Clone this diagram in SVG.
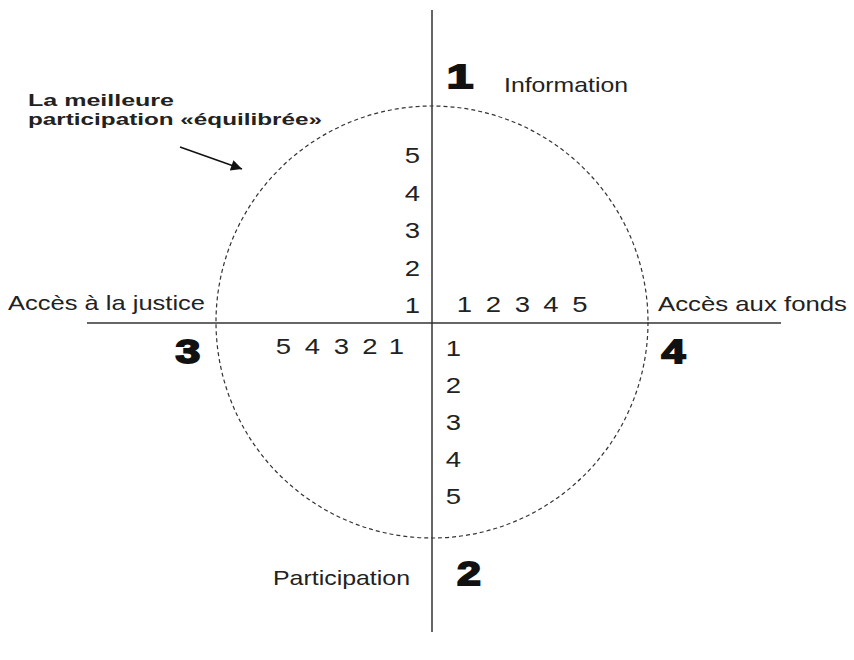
<svg xmlns="http://www.w3.org/2000/svg" width="854" height="660" viewBox="0 0 854 660">
<style>
.ax{stroke:#333;stroke-width:1.5;fill:none}
.circ{stroke:#333;stroke-width:1.2;fill:none;stroke-dasharray:4 3}
.lbl{font-family:"Liberation Sans",Arial,sans-serif;font-size:21px;fill:#222}
.cap{font-family:"Liberation Sans",Arial,sans-serif;font-size:16px;font-weight:bold;fill:#222}
.d{font-family:"Liberation Sans",Arial,sans-serif;font-size:22px;fill:#222;text-anchor:middle}
.big{font-family:"Liberation Sans",Arial,sans-serif;font-size:33px;font-weight:bold;fill:#111;stroke:#111;stroke-width:1.8;text-anchor:middle}
</style>
<defs>
<marker id="ah" viewBox="0 0 10 10" refX="10" refY="5" markerWidth="20" markerHeight="11" markerUnits="userSpaceOnUse" orient="auto">
<path d="M0,0 L10,5 L0,10 z" fill="#111"/>
</marker>
</defs>
<rect width="854" height="660" fill="#fff"/>
<g id="connectors">
<line class="ax" x1="432" y1="10" x2="432" y2="632"/>
<line class="ax" x1="87" y1="323" x2="781" y2="323"/>
<circle class="circ" cx="432" cy="322" r="216"/>
<line x1="180" y1="147" x2="242" y2="169" stroke="#111" stroke-width="1.5" marker-end="url(#ah)"/>
</g>
<g id="note">
<text class="cap" x="28" y="106" textLength="146" lengthAdjust="spacingAndGlyphs">La meilleure</text>
<text class="cap" x="28" y="124.5" textLength="294" lengthAdjust="spacingAndGlyphs">participation «équilibrée»</text>
</g>
<g id="q1">
<text class="big" transform="translate(460,88) scale(1.45,1)">1</text>
<text class="lbl" x="504" y="92" textLength="124" lengthAdjust="spacingAndGlyphs">Information</text>
</g>
<g id="q2">
<text class="big" transform="translate(469,585) scale(1.3,1)">2</text>
<text class="lbl" x="273" y="585" textLength="137" lengthAdjust="spacingAndGlyphs">Participation</text>
</g>
<g id="q3">
<text class="big" transform="translate(188,363) scale(1.35,1)">3</text>
<text class="lbl" x="8" y="310" textLength="197" lengthAdjust="spacingAndGlyphs">Accès à la justice</text>
</g>
<g id="q4">
<text class="big" transform="translate(673.5,363) scale(1.3,1)">4</text>
<text class="lbl" x="658" y="311" textLength="189" lengthAdjust="spacingAndGlyphs">Accès aux fonds</text>
</g>
<g id="scale-up">
<text class="d" transform="translate(412.5,163) scale(1.25,1)">5</text>
<text class="d" transform="translate(412.5,201) scale(1.25,1)">4</text>
<text class="d" transform="translate(412.5,238) scale(1.25,1)">3</text>
<text class="d" transform="translate(412.5,276) scale(1.25,1)">2</text>
<text class="d" transform="translate(412.5,313) scale(1.25,1)">1</text>
</g>
<g id="scale-right">
<text class="d" transform="translate(464.5,312) scale(1.25,1)">1</text>
<text class="d" transform="translate(493.5,312) scale(1.25,1)">2</text>
<text class="d" transform="translate(522.5,312) scale(1.25,1)">3</text>
<text class="d" transform="translate(551,312) scale(1.25,1)">4</text>
<text class="d" transform="translate(580,312) scale(1.25,1)">5</text>
</g>
<g id="scale-left">
<text class="d" transform="translate(283.5,354) scale(1.25,1)">5</text>
<text class="d" transform="translate(312.5,354) scale(1.25,1)">4</text>
<text class="d" transform="translate(341.5,354) scale(1.25,1)">3</text>
<text class="d" transform="translate(370,354) scale(1.25,1)">2</text>
<text class="d" transform="translate(396.5,354) scale(1.25,1)">1</text>
</g>
<g id="scale-down">
<text class="d" transform="translate(453.5,356) scale(1.25,1)">1</text>
<text class="d" transform="translate(453.5,393) scale(1.25,1)">2</text>
<text class="d" transform="translate(453.5,430) scale(1.25,1)">3</text>
<text class="d" transform="translate(453.5,467) scale(1.25,1)">4</text>
<text class="d" transform="translate(453.5,504) scale(1.25,1)">5</text>
</g>
</svg>
